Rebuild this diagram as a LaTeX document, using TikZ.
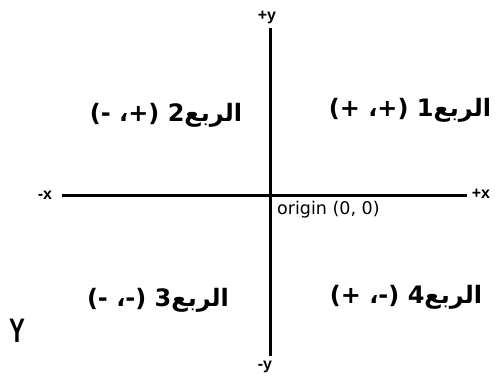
\documentclass[tikz,border=0pt]{standalone}
\usepackage{fontspec}
\setmainfont{Liberation Sans}
\newfontfamily\arabicfont[Script=Arabic]{DejaVu Sans}
\newfontfamily\origfont{DejaVu Sans}
\TeXXeTstate=1
\begin{document}
\begin{tikzpicture}[x=1pt,y=-1pt,
  axis/.style={line width=3pt},
  axlabel/.style={font=\bfseries\fontsize{16}{18}\selectfont, inner sep=0pt},
  quad/.style={font=\arabicfont\bfseries\fontsize{24}{28}\selectfont, inner sep=0pt}]
\useasboundingbox (0,0) rectangle (496,379);
\fill[white] (0,0) rectangle (496,379);
\coordinate (xl) at (62,196);
\coordinate (xr) at (467,196);
\coordinate (yt) at (270,28);
\coordinate (yb) at (270,356);
\draw[axis] (xl) -- (xr);
\draw[axis] (yt) -- (yb);
\node[axlabel] (mx) at (45,195) {-x};
\node[axlabel] (px) at (481,194) {+x};
\node[axlabel] (py) at (267,17) {+y};
\node[axlabel] (my) at (265,367) {-y};
\node[font=\origfont\fontsize{17.5}{20}\selectfont, inner sep=0pt, anchor=west] (org) at (277,210) {origin (0, 0)};
\node[quad] (q1) at (410,110) {\beginR الربع1 (+، +)\endR};
\node[quad] (q2) at (166,115) {\beginR الربع2 (+، -)\endR};
\node[quad] (q3) at (158,300) {\beginR الربع3 (-، -)\endR};
\node[quad] (q4) at (406,297) {\beginR الربع4 (-، +)\endR};
\node[font=\bfseries\fontsize{34}{38}\selectfont, inner sep=0pt, xscale=0.7] (yy) at (17,331) {Y};
\end{tikzpicture}
\end{document}
